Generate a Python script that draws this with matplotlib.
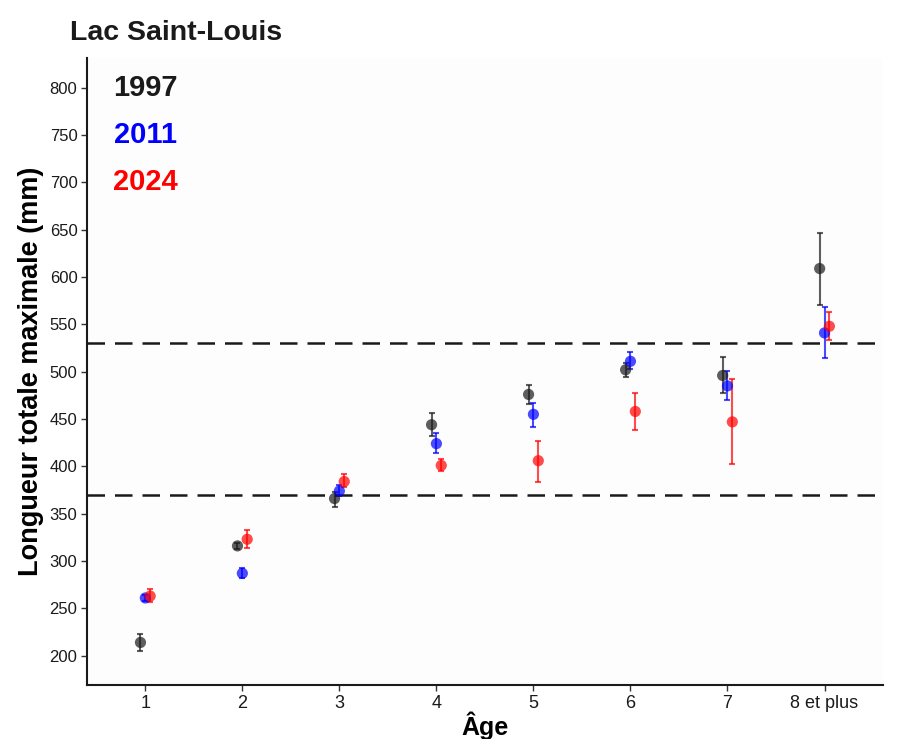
import numpy as np
import matplotlib
matplotlib.use("Agg")
import matplotlib.pyplot as plt

plt.rcParams['font.family'] = ['Liberation Sans', 'DejaVu Sans']

ages = ['1', '2', '3', '4', '5', '6', '7', '8 et plus']
years = ['1997', '2011', '2024']
colors = {'1997': '#1a1a1a', '2011': '#0000ff', '2024': '#ff0000'}

# moyenne, borne basse, borne haute (mm)
mean_1997 = [214, 316, 366, 444, 476, 502, 496, 609]
low_1997 = [205, 313, 357, 432, 466, 494, 478, 571]
high_1997 = [223, 319, 373, 456, 486, 509, 516, 647]

mean_2011 = [261, 287, 374, 424, 455, 511, 485, 541]
low_2011 = [258, 282, 369, 414, 442, 503, 470, 514]
high_2011 = [264, 293, 380, 435, 467, 521, 501, 568]

mean_2024 = [263, 323, 384, 401, 406, 458, 447, 548]
low_2024 = [257, 314, 378, 395, 384, 438, 402, 533]
high_2024 = [270, 333, 392, 408, 427, 477, 492, 563]

seuils = [370, 530]

series = {
    '1997': (mean_1997, low_1997, high_1997),
    '2011': (mean_2011, low_2011, high_2011),
    '2024': (mean_2024, low_2024, high_2024),
}
dodge = {'1997': -0.05, '2011': 0.0, '2024': 0.05}

fig = plt.figure(figsize=(8.98, 7.39), dpi=100)
ax = fig.add_axes([0.097, 0.073, 0.886, 0.848])
fig.patch.set_facecolor('white')
ax.set_facecolor('#fdfdfd')

x = np.arange(1, len(ages) + 1)
for yr in years:
    m, lo, hi = series[yr]
    m = np.array(m); lo = np.array(lo); hi = np.array(hi)
    xs = x + dodge[yr]
    ax.errorbar(xs, m, yerr=[m - lo, hi - m], fmt='none', ecolor=colors[yr],
                elinewidth=1.5, capsize=2.5, capthick=1.5, alpha=0.7, zorder=2)
    ax.scatter(xs, m, s=65, color=colors[yr], alpha=0.7, edgecolor='none', zorder=3)

for s in seuils:
    ax.axhline(s, color='#1a1a1a', lw=1.8, dashes=(7, 4), zorder=1)

for yr, yy in zip(years, [800, 750, 700]):
    ax.text(1, yy, yr, color=colors[yr], fontsize=21, fontweight='bold',
            ha='center', va='center')

ax.set_xlim(0.4, 8.6)
ax.set_ylim(169, 831)
ax.set_xticks(x)
ax.set_xticklabels(ages)
ax.set_yticks(np.arange(200, 801, 50))

for side in ['top', 'right']:
    ax.spines[side].set_visible(False)
for side in ['left', 'bottom']:
    ax.spines[side].set_linewidth(1.5)
    ax.spines[side].set_color('#1a1a1a')
ax.tick_params(axis='both', length=4, width=1, colors='#333333',
               labelcolor='#1a1a1a')
ax.tick_params(axis='x', labelsize=13, pad=3)
ax.tick_params(axis='y', labelsize=12, pad=3)

ax.set_xlabel('Âge', fontsize=18, fontweight='bold', labelpad=0)
ax.set_ylabel('Longueur totale maximale (mm)', fontsize=19.5, fontweight='bold', labelpad=4)
fig.text(0.078, 0.956, 'Lac Saint-Louis', fontsize=20.5, fontweight='bold',
         ha='left', va='center', color='#1a1a1a')

fig.savefig('out.png', dpi=100)
